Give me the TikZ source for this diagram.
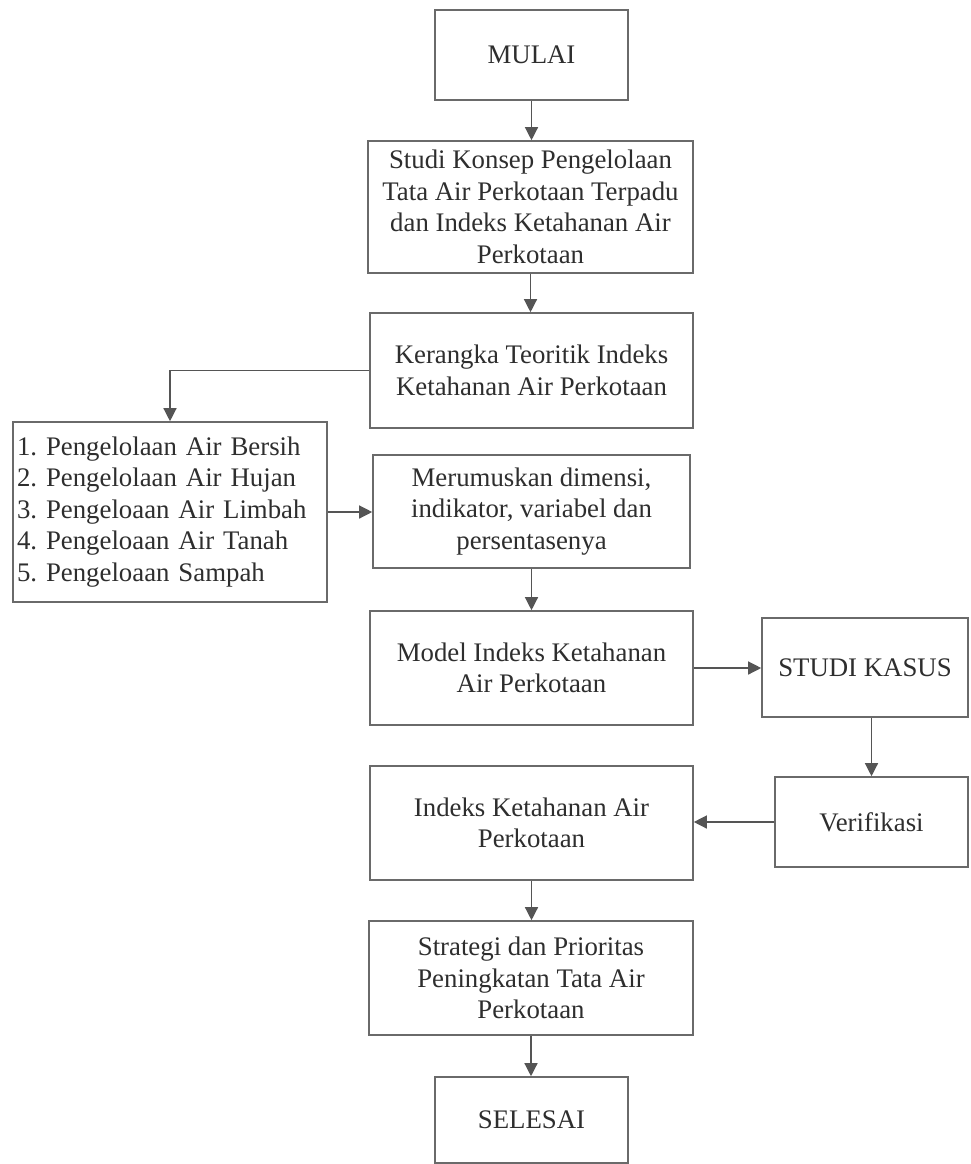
\documentclass[tikz,border=0pt]{standalone}
\usepackage{fontspec}
\setmainfont{Liberation Serif}
\usetikzlibrary{arrows.meta}
\definecolor{boxline}{HTML}{6A6A6A}
\definecolor{arrline}{HTML}{555555}
\definecolor{txt}{HTML}{2E2E2E}
\begin{document}
\frenchspacing
\begin{tikzpicture}[x=1pt,y=-1pt,
  every node/.style={font=\fontsize{26.8}{31.5}\selectfont, text=txt},
  procbox/.style={draw=boxline, line width=1.6pt, rectangle, align=center, inner sep=0pt},
  conn/.style={draw=arrline, line width=1.3pt, -{Triangle[width=13pt,length=13pt]}}
]
\useasboundingbox (0,0) rectangle (970,1164);
\fill[white] (0,0) rectangle (970,1164);

\node[procbox, minimum width=193pt, minimum height=90pt] (mulai) at (531.5,55) {MULAI};
\node[procbox, minimum width=325pt, minimum height=132pt] (studi) at (530.5,207)
  {Studi Konsep Pengelolaan\\Tata Air Perkotaan Terpadu\\dan Indeks Ketahanan Air\\Perkotaan};
\node[procbox, minimum width=323pt, minimum height=115pt] (kerangka) at (531.5,370.5)
  {Kerangka Teoritik Indeks\\Ketahanan Air Perkotaan};
\node[procbox, minimum width=314pt, minimum height=180pt, align=left, text width=306pt] (list) at (170,512)
  {1. Pengelolaan Air Bersih\\2. Pengelolaan Air Hujan\\3. Pengeloaan Air Limbah\\4. Pengeloaan Air Tanah\\5. Pengeloaan Sampah};
\node[procbox, minimum width=317pt, minimum height=113pt] (rumus) at (531.5,511.5)
  {Merumuskan dimensi,\\indikator, variabel dan\\persentasenya};
\node[procbox, minimum width=323pt, minimum height=114pt] (model) at (531.5,668)
  {Model Indeks Ketahanan\\Air Perkotaan};
\node[procbox, minimum width=206pt, minimum height=99pt] (kasus) at (865,667.5) {STUDI KASUS};
\node[procbox, minimum width=193pt, minimum height=90pt] (verif) at (871.5,822) {Verifikasi};
\node[procbox, minimum width=323pt, minimum height=114pt] (indeks) at (531.5,823)
  {Indeks Ketahanan Air\\Perkotaan};
\node[procbox, minimum width=324pt, minimum height=114pt] (strategi) at (531,978)
  {Strategi dan Prioritas\\Peningkatan Tata Air\\Perkotaan};
\node[procbox, minimum width=193pt, minimum height=86pt] (selesai) at (531.5,1120) {SELESAI};

\draw[conn] (mulai.south) -- (mulai.south |- studi.north);
\draw[conn] (studi.south) -- (studi.south |- kerangka.north);
\draw[conn] (kerangka.west) -| (list.north);
\draw[conn] (list.east) -- (list.east -| rumus.west);
\draw[conn] (rumus.south) -- (rumus.south |- model.north);
\draw[conn] (model.east) -- (model.east -| kasus.west);
\draw[conn] (verif.north |- kasus.south) -- (verif.north);
\draw[conn] (verif.west) -- (verif.west -| indeks.east);
\draw[conn] (indeks.south) -- (indeks.south |- strategi.north);
\draw[conn] (strategi.south) -- (strategi.south |- selesai.north);
\end{tikzpicture}
\end{document}
